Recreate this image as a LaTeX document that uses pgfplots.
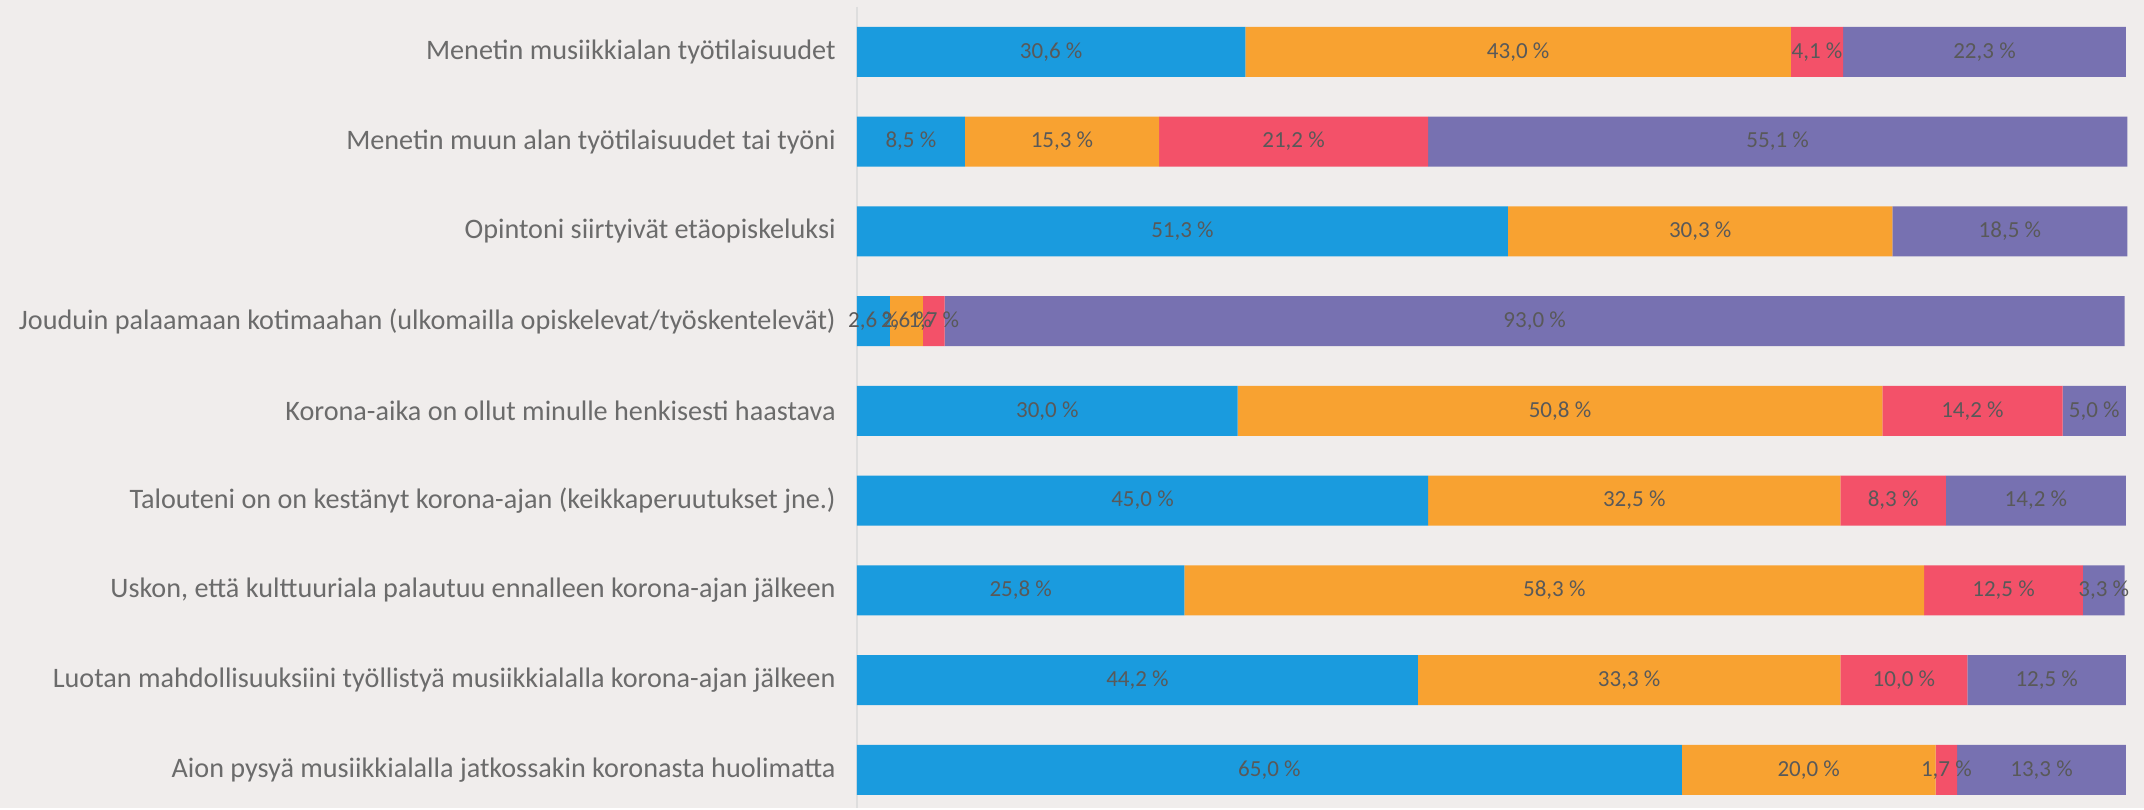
\documentclass[border=0pt]{standalone}
\usepackage{pgfplots}
\pgfplotsset{compat=1.18}
\usepackage{pgfplotstable}
\usepackage{fontspec}
\setmainfont{Carlito}
\usetikzlibrary{backgrounds}
\definecolor{bg}{HTML}{F0EDEC}
\definecolor{cblue}{HTML}{1A9BDE}
\definecolor{corange}{HTML}{F8A231}
\definecolor{cred}{HTML}{F35169}
\definecolor{cpurple}{HTML}{7771B1}
\definecolor{labgrey}{HTML}{6B6B6B}
\definecolor{valgrey}{HTML}{595959}
\pgfplotstableread{
y a b c d
0 30.6 43.0 4.1 22.3
1 8.5 15.3 21.2 55.1
2 51.3 30.3 0 18.5
3 2.6 2.6 1.7 93.0
4 30.0 50.8 14.2 5.0
5 45.0 32.5 8.3 14.2
6 25.8 58.3 12.5 3.3
7 44.2 33.3 10.0 12.5
8 65.0 20.0 1.7 13.3
}\data
\pgfplotsset{
  calc val/.code={%
    \pgfkeys{/pgf/fpu=true,/pgf/fpu/output format=fixed}%
    \pgfmathsetmacro\segval{\pgfplotspointmeta*1}%
    \pgfkeys{/pgf/fpu=false}%
    \global\let\segvalg\segval
  },
  seglabel/.style={
    point meta=explicit,
    nodes near coords={\ifdim\segvalg pt>0.01pt \pgfmathprintnumber[fixed,fixed zerofill,precision=1,use comma,assume math mode=true]{\pgfplotspointmeta}~\%\fi},
    every node near coord/.append style={/pgfplots/calc val, anchor=center, font=\fontsize{11.5}{13}\selectfont, text=valgrey},
  }
}
\begin{document}
\begin{tikzpicture}
\begin{axis}[
  name=ax,
  scale only axis,
  width=634.5pt, height=400.7pt,
  xbar stacked,
  bar width=25pt,
  xmin=0, xmax=100,
  ymin=-0.5, ymax=8.43,
  y dir=reverse,
  axis x line=none,
  axis y line=left,
  y axis line style={-, draw=black!13, line width=1pt},
  ytick={0,...,8},
  ytick style={draw=none},
  yticklabels={
    Menetin musiikkialan työtilaisuudet,
    Menetin muun alan työtilaisuudet tai työni,
    Opintoni siirtyivät etäopiskeluksi,
    Jouduin palaamaan kotimaahan (ulkomailla opiskelevat/työskentelevät),
    Korona-aika on ollut minulle henkisesti haastava,
    Talouteni on on kestänyt korona-ajan (keikkaperuutukset jne.),
    {Uskon, että kulttuuriala palautuu ennalleen korona-ajan jälkeen},
    Luotan mahdollisuuksiini työllistyä musiikkialalla korona-ajan jälkeen,
    Aion pysyä musiikkialalla jatkossakin koronasta huolimatta},
  yticklabel style={font=\fontsize{14.1}{16}\selectfont, text=labgrey, xshift=-5pt},
  clip=false,
]
\addplot[fill=cblue, draw=none, seglabel] table[x=a, y=y, meta=a] {\data};
\addplot[fill=corange, draw=none, seglabel] table[x=b, y=y, meta=b] {\data};
\addplot[fill=cred, draw=none, seglabel] table[x=c, y=y, meta=c] {\data};
\addplot[fill=cpurple, draw=none, seglabel] table[x=d, y=y, meta=d] {\data};
\end{axis}
\begin{scope}[on background layer]
\fill[bg] (-428.5pt,0) rectangle (643.5pt,404.2pt);
\end{scope}
\end{tikzpicture}
\end{document}
